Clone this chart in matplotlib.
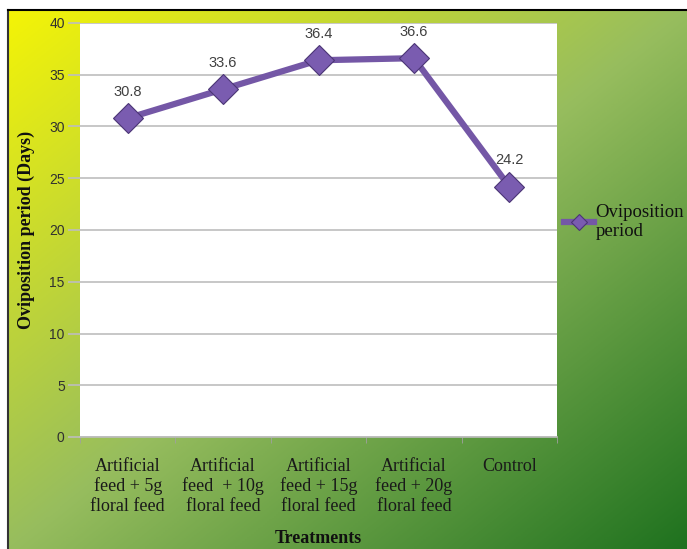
import numpy as np
import matplotlib.pyplot as plt
from matplotlib.colors import LinearSegmentedColormap

# 数据
treatments = ['Artificial\nfeed + 5g\nfloral feed',
              'Artificial\nfeed  + 10g\nfloral feed',
              'Artificial\nfeed + 15g\nfloral feed',
              'Artificial\nfeed + 20g\nfloral feed',
              'Control']
oviposition = [30.8, 33.6, 36.4, 36.6, 24.2]
y_ticks = [0, 5, 10, 15, 20, 25, 30, 35, 40]

W, H = 687, 549
fig = plt.figure(figsize=(W / 100, H / 100), dpi=100)
fig.patch.set_facecolor('white')

# 背景渐变 (黄 -> 浅绿 -> 深绿, 对角方向)
bg = fig.add_axes([8 / W, 0, 1 - 8 / W, 1 - 10 / H])
gx, gy = np.meshgrid(np.linspace(0, 1, 300), np.linspace(0, 1, 300))
t = (gx + gy) / 2
cmap = LinearSegmentedColormap.from_list(
    'bg', [(0.0, '#f4f406'), (0.5, '#97bd5e'), (1.0, '#1f721f')])
bg.imshow(t, cmap=cmap, aspect='auto', extent=[0, 1, 1, 0], interpolation='bilinear')
bg.set_xlim(0, 1)
bg.set_ylim(1, 0)
bg.set_xticks([])
bg.set_yticks([])
for side in ['right', 'bottom']:
    bg.spines[side].set_visible(False)
bg.spines['top'].set_linewidth(1.5)
bg.spines['left'].set_linewidth(1.5)
bg.spines['left'].set_color('#333333')
bg.set_zorder(0)

# 主图
ax = fig.add_axes([80 / W, 1 - 437 / H, (557 - 80) / W, (437 - 23) / H])
ax.set_zorder(1)
ax.set_facecolor('white')
x = np.arange(len(treatments))
ax.plot(x, oviposition, color='#7457a6', linewidth=4.5, marker='D', markersize=15,
        markerfacecolor='#7a5cb0', markeredgecolor='#4b3575', markeredgewidth=0.8,
        label='Oviposition\nperiod', zorder=3)

for xi, yi in zip(x, oviposition):
    ax.annotate(f'{yi}', (xi, yi), xytext=(0, 14), textcoords='offset points',
                ha='center', va='bottom', fontsize=10.5, color='#404040',
                family='Liberation Sans')

ax.set_xlim(-0.5, len(treatments) - 0.5)
ax.set_ylim(0, 40)
ax.set_yticks(y_ticks)
ax.set_yticklabels([str(v) for v in y_ticks], fontsize=10, color='#303030',
                   family='Liberation Sans')
ax.yaxis.grid(True, color='#bdbdbd', linewidth=1.2)
ax.set_axisbelow(True)
ax.tick_params(axis='y', length=9, color='#bdbdbd', width=1.2, pad=2)

ax.set_xticks(x)
ax.set_xticklabels(treatments, fontsize=13, family='Liberation Serif',
                   color='#1a1a1a', linespacing=1.2)
ax.tick_params(axis='x', length=0, pad=15)
ax.set_xticks(np.arange(-0.5, len(treatments), 1), minor=True)
ax.tick_params(axis='x', which='minor', length=4, color='#a0a0a0')

for side in ['top', 'right', 'left']:
    ax.spines[side].set_visible(False)
ax.spines['bottom'].set_color('#bdbdbd')
ax.spines['bottom'].set_linewidth(1.2)

ax.set_ylabel('Oviposition period (Days)', fontsize=13, fontweight='bold',
              family='Liberation Serif', color='#101010', labelpad=10)
ax.set_xlabel('Treatments', fontsize=13, fontweight='bold',
              family='Liberation Serif', color='#101010', labelpad=11)

leg = ax.legend(loc='center left', bbox_to_anchor=(0.998, 0.52), frameon=False,
                prop={'family': 'Liberation Serif', 'size': 13.5},
                handlelength=1.6, handletextpad=0.1, borderaxespad=0,
                markerscale=0.55)
for txt in leg.get_texts():
    txt.set_color('#101010')
    txt.set_linespacing(1.15)

fig.savefig('out.png', dpi=100)
